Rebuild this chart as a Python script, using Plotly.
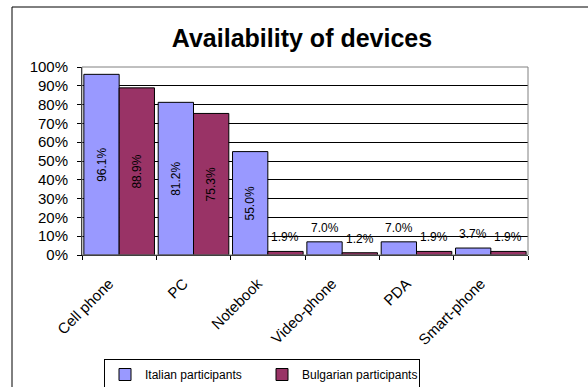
import plotly.graph_objects as go

categories = ["Cell phone", "PC", "Notebook", "Video-phone", "PDA", "Smart-phone"]
italian = [96.1, 81.2, 55.0, 7.0, 7.0, 3.7]
bulgarian = [88.9, 75.3, 1.9, 1.2, 1.9, 1.9]
series_names = ["Italian participants", "Bulgarian participants"]
y_ticks = list(range(0, 101, 10))
y_tick_labels = [f"{v}%" for v in y_ticks]

colors = ["#9999FF", "#993366"]
FONT = "Liberation Sans, Arial, sans-serif"
W, H = 588, 387
L, R, T, B = 82, 60, 67, 132
pw, ph = W - L - R, H - T - B

def px_x(px):
    return (px - L) / pw

def px_y(py):
    return (H - B - py) / ph

fig = go.Figure()
annotations = []
bar_w = 0.95 / 2
for k, (name, vals) in enumerate(zip(series_names, [italian, bulgarian])):
    texts = [f"{v:.1f}%" if v >= 10 else "" for v in vals]
    fig.add_trace(go.Bar(
        x=categories, y=vals, name=name,
        marker=dict(color=colors[k], line=dict(color="black", width=1)),
        text=texts, textposition="inside", textangle=-90,
        insidetextanchor="middle",
        textfont=dict(family=FONT, size=12, color="black"),
        constraintext="none",
    ))
    offset = (k - 0.5) * bar_w
    for i, v in enumerate(vals):
        if v < 10:
            annotations.append(dict(
                x=i + offset, y=v, xref="x", yref="y",
                text=f"{v:.1f}%", showarrow=False, yanchor="bottom",
                yshift=5, font=dict(family=FONT, size=12, color="black"),
            ))

shapes = [
    # outer chart frame
    dict(type="rect", xref="paper", yref="paper",
         x0=px_x(12), x1=px_x(620), y0=px_y(420), y1=px_y(7),
         line=dict(color="black", width=1), layer="below"),
    # plot area border
    dict(type="rect", xref="paper", yref="paper", x0=0, x1=1, y0=0, y1=1,
         line=dict(color="#808080", width=1), layer="above"),
]

fig.update_layout(
    width=W, height=H,
    margin=dict(l=L, r=R, t=T, b=B, autoexpand=False),
    paper_bgcolor="white", plot_bgcolor="white",
    barmode="group", bargap=0.05, bargroupgap=0,
    title=dict(text="<b>Availability of devices</b>", x=302 / W, xref="container",
               xanchor="center", y=1 - 38 / H, yanchor="middle", yref="container",
               font=dict(family=FONT, size=25, color="black")),
    font=dict(family=FONT, color="black"),
    xaxis=dict(showline=True, linecolor="black", linewidth=1, automargin=False,
               ticks="outside", ticklen=4, tickcolor="black", tickson="boundaries",
               tickangle=-45, tickfont=dict(family=FONT, size=15, color="black"),
               ticklabelstandoff=13, ticklabelshift=-10,
               showgrid=False),
    yaxis=dict(range=[0, 100], tickvals=y_ticks, ticktext=y_tick_labels,
               showline=True, linecolor="black", linewidth=1, automargin=False,
               ticks="outside", ticklen=4, tickcolor="black",
               ticklabelstandoff=6,
               showgrid=True, gridcolor="black", gridwidth=1,
               tickfont=dict(family=FONT, size=15, color="black"), zeroline=False),
    legend=dict(orientation="h", x=px_x(104), xanchor="left", y=px_y(359), yanchor="top",
                bordercolor="black", borderwidth=1, bgcolor="white",
                font=dict(family=FONT, size=12, color="black"),
                entrywidth=112, entrywidthmode="pixels", tracegroupgap=0),
    annotations=annotations,
    shapes=shapes,
)

fig.write_html("out.html")
